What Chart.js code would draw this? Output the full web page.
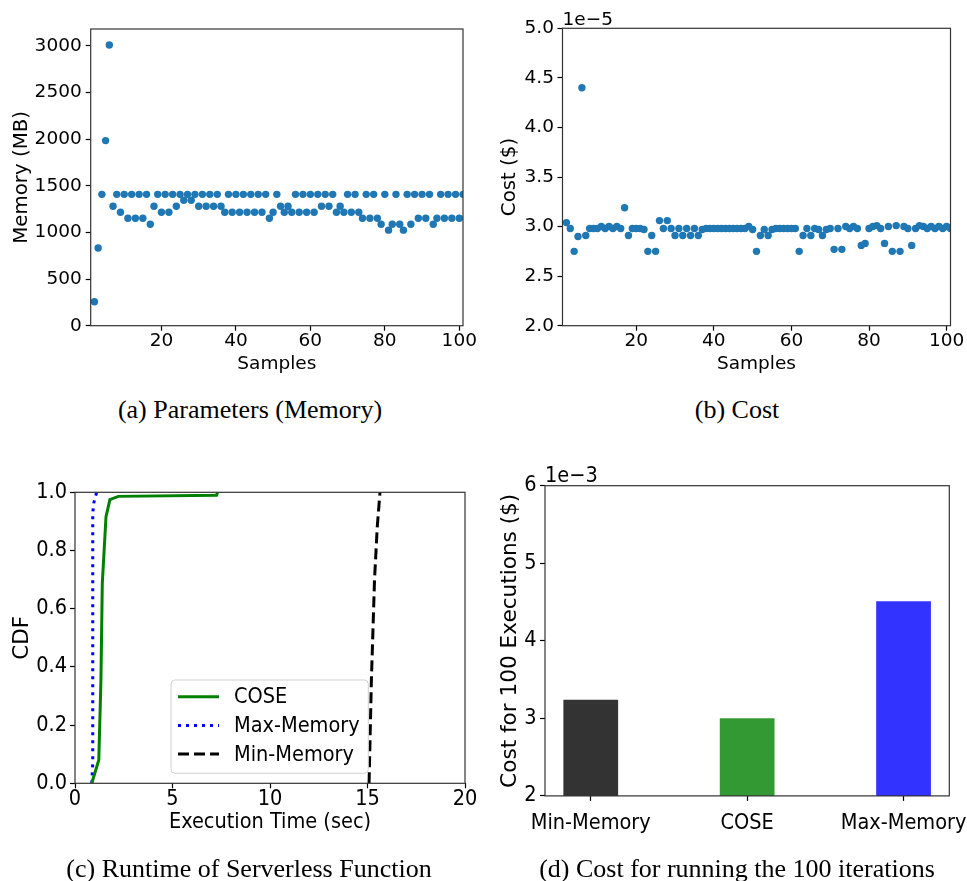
<!DOCTYPE html>
<html>
<head>
<meta charset="utf-8">
<title>COSE results</title>
<script src="https://cdn.jsdelivr.net/npm/chart.js@4.4.1/dist/chart.umd.min.js"></script>
<style>
  html, body { margin: 0; padding: 0; background: #fff; }
  #page { position: relative; width: 967px; height: 881px; overflow: hidden; background: #fff; }
  #page canvas { position: absolute; }
  .caption {
    position: absolute;
    transform: translate(-50%, -50%);
    white-space: nowrap;
    font-family: "Liberation Serif", "Times New Roman", serif;
    font-size: 26px;
    color: #000;
  }
</style>
</head>
<body>
<div id="page">
  <canvas id="memoryChart" width="480" height="395" style="left:0;top:0"></canvas>
  <canvas id="costChart" width="487" height="395" style="left:480px;top:0"></canvas>
  <canvas id="runtimeChart" width="480" height="441" style="left:0;top:440px"></canvas>
  <canvas id="totalChart" width="487" height="441" style="left:480px;top:440px"></canvas>
  <div class="caption" style="left:250px;top:410px">(a) Parameters (Memory)</div>
  <div class="caption" style="left:737px;top:410px">(b) Cost</div>
  <div class="caption" style="left:249px;top:869px">(c) Runtime of Serverless Function</div>
  <div class="caption" style="left:737px;top:869px">(d) Cost for running the 100 iterations</div>
</div>
<script>
const firstSample = 2;   // samples run 2..101

// (a) memory picked per sample, MB
const memoryMB = [
  256, 832, 1408, 1984, 3008, 1280, 1408, 1216, 1408, 1152,
  1408, 1152, 1408, 1152, 1408, 1088, 1280, 1408, 1216, 1408,
  1216, 1408, 1280, 1408, 1344, 1408, 1344, 1408, 1280, 1408,
  1280, 1408, 1280, 1408, 1280, 1216, 1408, 1216, 1408, 1216,
  1408, 1216, 1408, 1216, 1408, 1216, 1408, 1152, 1216, 1408,
  1280, 1216, 1280, 1216, 1408, 1216, 1408, 1216, 1408, 1216,
  1408, 1280, 1408, 1280, 1408, 1216, 1280, 1216, 1408, 1216,
  1408, 1216, 1152, 1408, 1152, 1408, 1152, 1088, 1408, 1024,
  1088, 1408, 1088, 1024, 1408, 1088, 1408, 1152, 1408, 1152,
  1408, 1088, 1152, 1408, 1152, 1408, 1152, 1408, 1152, 1408
];

// (b) cost per sample, in units of 1e-5 $
const costE5 = [
  3.04, 2.98, 2.75, 2.90, 4.40, 2.91, 2.98, 2.98, 2.98, 3.00,
  2.98, 3.00, 2.98, 3.00, 2.98, 3.19, 2.91, 2.98, 2.98, 2.98,
  2.97, 2.75, 2.91, 2.75, 3.06, 2.98, 3.06, 2.98, 2.91, 2.98,
  2.91, 2.98, 2.91, 2.98, 2.91, 2.97, 2.98, 2.98, 2.98, 2.98,
  2.98, 2.98, 2.98, 2.98, 2.98, 2.98, 2.98, 3.00, 2.97, 2.75,
  2.91, 2.97, 2.91, 2.97, 2.98, 2.98, 2.98, 2.98, 2.98, 2.98,
  2.75, 2.91, 2.98, 2.91, 2.98, 2.97, 2.91, 2.97, 2.98, 2.77,
  2.98, 2.77, 3.00, 2.98, 3.00, 2.98, 2.81, 2.83, 2.98, 3.00,
  3.01, 2.98, 2.83, 3.00, 2.75, 3.01, 2.75, 3.00, 2.98, 2.81,
  2.98, 3.01, 3.00, 2.98, 3.00, 2.98, 3.00, 2.98, 3.00, 2.98
];

// (c) CDF of execution time (sec)
const coseTime = [0.86, 1.22, 1.33, 1.40, 1.59, 1.79, 2.22, 7.26, 7.31];
const coseCdf  = [0.0, 0.08, 0.355, 0.687, 0.916, 0.975, 0.986, 0.99, 1.0];
const maxMemTime = [0.86, 0.91, 0.91, 0.97, 1.11];
const maxMemCdf  = [0.0, 0.07, 0.93, 0.965, 1.0];
const minMemTime = [15.08, 15.2, 15.36, 15.5, 15.64];
const minMemCdf  = [0.0, 0.355, 0.7, 0.88, 1.0];

// (d) cost for 100 executions, in units of 1e-3 $
const strategies = ["Min-Memory", "COSE", "Max-Memory"];
const totalCostE3 = [3.24, 3.0, 4.51];
const strategyColors = ["#333333", "#339933", "#3333ff"];

// tick labels
const sampleTicks = [20, 40, 60, 80, 100];
const memoryTicks = [0, 500, 1000, 1500, 2000, 2500, 3000];
const costTicks = [2.0, 2.5, 3.0, 3.5, 4.0, 4.5, 5.0];
const timeTicks = [0, 5, 10, 15, 20];
const cdfTicks = [0, 0.2, 0.4, 0.6, 0.8, 1.0];
const totalTicks = [2, 3, 4, 5, 6];

// ——— helpers ———
Chart.defaults.color = "#000";
Chart.defaults.animation = false;
Chart.defaults.plugins.legend.display = false;
Chart.defaults.plugins.tooltip.enabled = false;

const SANS = '"DejaVu Sans", sans-serif';
const COND = '"DejaVu Sans Condensed", "DejaVu Sans", sans-serif';
const BLUE = "#1f77b4";

// axis box around the plot, like a matplotlib frame
const framePlugin = {
  id: "frame",
  afterDatasetsDraw(chart) {
    const { ctx, chartArea: a } = chart;
    ctx.save();
    ctx.strokeStyle = "#333";
    ctx.lineWidth = 1.2;
    ctx.strokeRect(a.left, a.top, a.right - a.left, a.bottom - a.top);
    ctx.restore();
  }
};

// the "1e-5" multiplier over the top left corner
const offsetTextPlugin = {
  id: "offsetText",
  afterDraw(chart, args, opts) {
    if (!opts.text) return;
    const { ctx, chartArea: a } = chart;
    ctx.save();
    ctx.font = opts.font;
    ctx.fillStyle = "#000";
    ctx.textBaseline = "alphabetic";
    ctx.textAlign = "left";
    ctx.fillText(opts.text, a.left, a.top - opts.gap);
    ctx.restore();
  }
};

// legend box drawn inside plot (c)
const boxLegendPlugin = {
  id: "boxLegend",
  afterDraw(chart, args, o) {
    const ctx = chart.ctx;
    ctx.save();
    ctx.beginPath();
    ctx.roundRect(o.x, o.y, o.w, o.h, 4);
    ctx.fillStyle = "rgba(255,255,255,0.8)";
    ctx.fill();
    ctx.strokeStyle = "#d0d0d0";
    ctx.lineWidth = 1;
    ctx.stroke();
    ctx.font = o.font;
    ctx.textBaseline = "middle";
    chart.data.datasets.forEach((ds, i) => {
      const y = o.firstRow + i * o.rowGap;
      ctx.beginPath();
      ctx.setLineDash(ds.borderDash || []);
      ctx.strokeStyle = ds.borderColor;
      ctx.lineWidth = ds.borderWidth;
      ctx.moveTo(o.x + 7, y);
      ctx.lineTo(o.x + 48, y);
      ctx.stroke();
      ctx.setLineDash([]);
      ctx.fillStyle = "#000";
      ctx.fillText(ds.label, o.x + 63, y + 1);
    });
    ctx.restore();
  }
};

function axis(o) {
  return {
    type: "linear",
    min: o.min,
    max: o.max,
    offset: false,
    border: { display: false },
    grid: { offset: false, drawOnChartArea: false, drawTicks: true, tickLength: 5, tickWidth: 1.2, tickColor: "#000" },
    afterBuildTicks: s => { s.ticks = o.ticks.map(v => ({ value: v })); },
    afterFit: s => {
      // fixed box sizes so the plot area lands where it should; labels may spill over
      if (s.isHorizontal()) s.height = o.size; else s.width = o.size;
      s.paddingLeft = s.paddingRight = s.paddingTop = s.paddingBottom = 0;
    },
    ticks: {
      font: o.font,
      padding: o.pad,
      autoSkip: false,
      maxRotation: 0,
      callback: o.fmt || (v => v)
    },
    title: o.title
      ? { display: true, text: o.title, font: o.titleFont, padding: o.titlePad }
      : { display: false }
  };
}

const tickFontTop = { family: SANS, size: 18.5, lineHeight: 1 };
const tickFontBottom = { family: COND, size: 21.5, lineHeight: 1 };

// ——— (a) memory ———
new Chart(document.getElementById("memoryChart"), {
  type: "scatter",
  data: {
    datasets: [{
      data: memoryMB.map((m, i) => ({ x: firstSample + i, y: m })),
      pointBackgroundColor: BLUE,
      pointBorderWidth: 0,
      pointRadius: 3.7,
      clip: 0
    }]
  },
  options: {
    responsive: false,
    devicePixelRatio: 1,
    layout: { padding: { top: 29, right: 17, left: 0, bottom: 0 } },
    scales: {
      x: axis({ min: 1, max: 101, ticks: sampleTicks, size: 69.3, font: tickFontTop, pad: 1,
                title: "Samples", titleFont: { family: SANS, size: 18.5 }, titlePad: { top: 0, bottom: 19.4 } }),
      y: axis({ min: 0, max: 3180, ticks: memoryTicks, size: 90.7, font: tickFontTop, pad: 4,
                title: "Memory (MB)", titleFont: { family: SANS, size: 19.8 }, titlePad: { top: 10, bottom: 0 } })
    }
  },
  plugins: [framePlugin]
});

// ——— (b) cost ———
new Chart(document.getElementById("costChart"), {
  type: "scatter",
  data: {
    datasets: [{
      data: costE5.map((c, i) => ({ x: firstSample + i, y: c })),
      pointBackgroundColor: BLUE,
      pointBorderWidth: 0,
      pointRadius: 3.7,
      clip: 0
    }]
  },
  options: {
    responsive: false,
    devicePixelRatio: 1,
    layout: { padding: { top: 28.3, right: 16.5, left: 0, bottom: 0 } },
    plugins: { offsetText: { text: "1e\u22125", font: "18.5px " + SANS, gap: 3.5 } },
    scales: {
      x: axis({ min: 1, max: 101, ticks: sampleTicks, size: 69.3, font: tickFontTop, pad: 1,
                title: "Samples", titleFont: { family: SANS, size: 18.5 }, titlePad: { top: 0, bottom: 19.4 } }),
      y: axis({ min: 2, max: 5, ticks: costTicks, size: 82.5, font: tickFontTop, pad: 3.5, fmt: v => v.toFixed(1),
                title: "Cost ($)", titleFont: { family: SANS, size: 19.8 }, titlePad: { top: 18.3, bottom: 0 } })
    }
  },
  plugins: [framePlugin, offsetTextPlugin]
});

// ——— (c) runtime CDF ———
const toPoints = (xs, ys) => xs.map((x, i) => ({ x, y: ys[i] }));
new Chart(document.getElementById("runtimeChart"), {
  type: "line",
  data: {
    datasets: [
      { label: "COSE", data: toPoints(coseTime, coseCdf), borderColor: "#008000", borderWidth: 3 },
      { label: "Max-Memory", data: toPoints(maxMemTime, maxMemCdf), borderColor: "#0000ff", borderWidth: 3, borderDash: [3, 5] },
      { label: "Min-Memory", data: toPoints(minMemTime, minMemCdf), borderColor: "#000000", borderWidth: 3, borderDash: [11, 5] }
    ]
  },
  options: {
    responsive: false,
    devicePixelRatio: 1,
    datasets: { line: { pointRadius: 0, tension: 0, fill: false, clip: 0, borderCapStyle: "butt" } },
    layout: { padding: { top: 52.3, right: 15, left: 0, bottom: 0 } },
    plugins: {
      boxLegend: { x: 171, y: 240, w: 197.3, h: 93.3, firstRow: 256.7, rowGap: 28.7, font: "21.5px " + COND }
    },
    scales: {
      x: axis({ min: 0, max: 20, ticks: timeTicks, size: 97.7, font: tickFontBottom, pad: 0.7,
                title: "Execution Time (sec)", titleFont: { family: COND, size: 21.5 }, titlePad: { top: 0, bottom: 45.7 } }),
      y: axis({ min: 0, max: 1, ticks: cdfTicks, size: 75, font: tickFontBottom, pad: 3, fmt: v => v.toFixed(1),
                title: "CDF", titleFont: { family: SANS, size: 21.5 }, titlePad: { top: 9.1, bottom: 0 } })
    }
  },
  plugins: [framePlugin, boxLegendPlugin]
});

// ——— (d) total cost ———
new Chart(document.getElementById("totalChart"), {
  type: "bar",
  data: {
    datasets: [{
      data: totalCostE3.map((c, i) => ({ x: i, y: c })),
      backgroundColor: strategyColors,
      borderWidth: 0,
      barPercentage: 0.35,
      categoryPercentage: 1.0
    }]
  },
  options: {
    responsive: false,
    devicePixelRatio: 1,
    layout: { padding: { top: 45.7, right: 17.7, left: 0, bottom: 0 } },
    plugins: { offsetText: { text: "1e\u22123", font: "21.5px " + COND, gap: 4 } },
    scales: {
      x: axis({ min: -0.2925, max: 2.2925, ticks: [0, 1, 2], size: 85.1, font: tickFontBottom, pad: 12,
                fmt: v => strategies[v] }),
      y: axis({ min: 2, max: 6, ticks: totalTicks, size: 65, font: tickFontBottom, pad: 3.5,
                title: "Cost for 100 Executions ($)", titleFont: { family: SANS, size: 21.6 }, titlePad: { top: 17.1, bottom: 0 } })
    }
  },
  plugins: [framePlugin, offsetTextPlugin]
});
</script>
</body>
</html>
